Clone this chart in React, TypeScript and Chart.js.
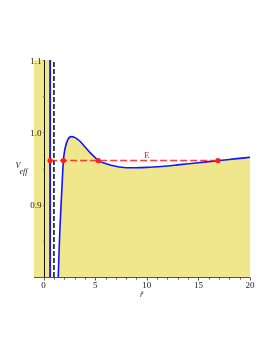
import { useEffect, useRef } from "react";
import { Chart, registerables } from "chart.js";

Chart.register(...registerables);

// ---- axis ranges and tick labels ----
const X_MIN = -0.93;
const X_MAX = 20;
const Y_MIN = 0.8;
const Y_MAX = 1.1;
const xTickLabels = [0, 5, 10, 15, 20];
const yTickLabels = [0.9, 1.0, 1.1];

// ---- effective potential, outer branch (r~, V_eff) ----
const curveR = [1.38, 1.42, 1.5, 1.58, 1.74, 1.92, 2.1, 2.35, 2.7, 3.0, 3.5, 4.0, 4.5, 5.0, 5.3, 6, 7, 8, 9, 10, 11, 12, 13, 14, 15, 16, 17, 18, 19, 20];
const curveV = [0.78, 0.8, 0.835, 0.866, 0.913, 0.961, 0.979, 0.99, 0.994, 0.993, 0.988, 0.98, 0.972, 0.965, 0.961, 0.957, 0.953, 0.951, 0.951, 0.9515, 0.9525, 0.9535, 0.955, 0.9565, 0.958, 0.9595, 0.961, 0.9625, 0.964, 0.9655];

// ---- inner branch (vertical wall) ----
const innerBranchR = [X_MIN - 1, 0.63, 0.63];
const innerBranchV = [1.3, 1.3, 0.7];

// ---- horizon (dashed) ----
const horizonR = 1.0;

// ---- energy level and turning points ----
const energyE = 0.961;
const energyLabel = "E";
const energyLabelR = 10;
const turningR = [0.63, 1.92, 5.3, 16.9];

const KHAKI = "rgb(240,230,140)";
const BLUE = "rgb(20,20,255)";
const RED = "rgb(255,30,30)";

const axesPlugin = {
  id: "mapleAxes",
  afterDatasetsDraw(chart: any) {
    const { ctx, chartArea: a, scales } = chart;
    const x = scales.x;
    const y = scales.y;
    ctx.save();
    // y axis line at r = 0
    const x0 = Math.round(x.getPixelForValue(0)) + 0.5;
    ctx.strokeStyle = "#111";
    ctx.lineWidth = 1;
    ctx.beginPath();
    ctx.moveTo(x0, a.top);
    ctx.lineTo(x0, a.bottom);
    ctx.stroke();
    // y ticks
    ctx.strokeStyle = "#777";
    ctx.beginPath();
    for (let k = 0; k <= 6; k++) {
      const v = Y_MIN + k * 0.05;
      const py = Math.round(y.getPixelForValue(v)) + 0.5;
      ctx.moveTo(x0 - 1.5, py);
      ctx.lineTo(x0, py);
    }
    ctx.stroke();
    // x axis line
    const yb = Math.round(a.bottom) + 0.5;
    ctx.strokeStyle = "#555";
    ctx.beginPath();
    ctx.moveTo(a.left, yb);
    ctx.lineTo(a.right, yb);
    for (let v = 0; v <= X_MAX; v++) {
      const px = Math.round(x.getPixelForValue(v)) + 0.5;
      ctx.moveTo(px, yb);
      ctx.lineTo(px, yb + (v % 5 === 0 ? 3 : 2));
    }
    ctx.stroke();

    ctx.fillStyle = "#222";
    ctx.font = '9px "Liberation Serif"';
    ctx.textBaseline = "alphabetic";
    ctx.textAlign = "center";
    for (const v of xTickLabels) {
      ctx.fillText(String(v), x.getPixelForValue(v), yb + 10);
    }
    ctx.textAlign = "right";
    for (const v of yTickLabels) {
      ctx.fillText(v.toFixed(1), x0 - 3, y.getPixelForValue(v) + 3.5);
    }
    // axis titles
    ctx.textAlign = "left";
    ctx.font = 'italic 8px "Liberation Serif"';
    ctx.fillText("V", 15.5, 167.5);
    ctx.fillText("eff", 19.5, 174);
    ctx.fillText("r\u0303", 140, 297);

    // energy label
    ctx.fillStyle = RED;
    ctx.font = '9px "Liberation Serif"';
    ctx.textAlign = "center";
    ctx.fillText(energyLabel, x.getPixelForValue(energyLabelR), y.getPixelForValue(energyE) - 2.5);
    ctx.restore();
  },
};

export default function App() {
  const ref = useRef<HTMLCanvasElement | null>(null);
  useEffect(() => {
    if (!ref.current) return;
    const chart = new Chart(ref.current, {
      type: "scatter",
      data: {
        datasets: [
          {
            data: turningR.map((r) => ({ x: r, y: energyE })),
            showLine: false,
            pointRadius: 2.6,
            pointBackgroundColor: RED,
            pointBorderWidth: 0,
          } as any,
          {
            data: [
              { x: turningR[0], y: energyE },
              { x: turningR[turningR.length - 1], y: energyE },
            ],
            showLine: true,
            borderColor: "rgba(255,40,40,0.9)",
            borderWidth: 1.4,
            borderDash: [7, 3],
            pointRadius: 0,
          },
          {
            data: [
              { x: horizonR, y: Y_MIN },
              { x: horizonR, y: Y_MAX },
            ],
            showLine: true,
            borderColor: "#333",
            borderWidth: 1.8,
            borderDash: [5, 2],
            pointRadius: 0,
          },
          {
            data: innerBranchR.map((r, i) => ({ x: r, y: innerBranchV[i] })),
            showLine: true,
            borderColor: BLUE,
            borderWidth: 1.9,
            pointRadius: 0,
            fill: { value: Y_MIN },
            backgroundColor: KHAKI,
          },
          {
            data: curveR.map((r, i) => ({ x: r, y: curveV[i] })),
            showLine: true,
            borderColor: BLUE,
            borderWidth: 1.6,
            pointRadius: 0,
            cubicInterpolationMode: "monotone",
            fill: { value: Y_MIN },
            backgroundColor: KHAKI,
          },
        ],
      },
      options: {
        animation: false,
        responsive: false,
        maintainAspectRatio: false,
        layout: { padding: { left: 34, right: 24, top: 60, bottom: 78 } },
        scales: {
          x: { type: "linear", min: X_MIN, max: X_MAX, display: false },
          y: { type: "linear", min: Y_MIN, max: Y_MAX, display: false },
        },
        plugins: { legend: { display: false }, tooltip: { enabled: false } },
      },
      plugins: [axesPlugin],
    });
    return () => chart.destroy();
  }, []);
  return (
    <div style={{ position: "fixed", left: 0, top: 0, width: 274, height: 355, background: "#fff" }}>
      <canvas ref={ref} width={274} height={355} style={{ width: 274, height: 355 }} />
    </div>
  );
}
